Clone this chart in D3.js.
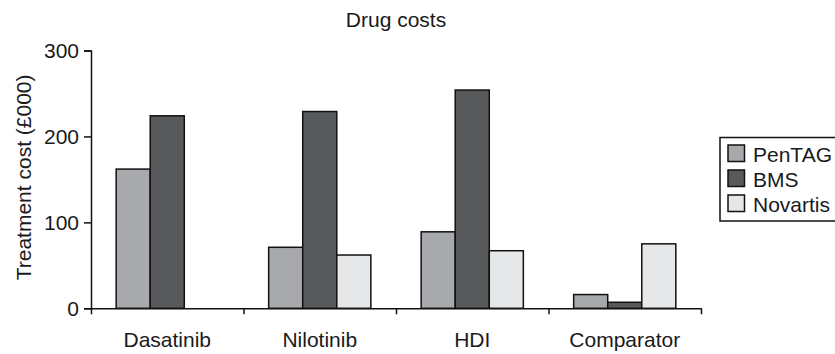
<!DOCTYPE html>
<html>
<head>
<meta charset="utf-8">
<script src="https://cdn.jsdelivr.net/npm/d3@7"></script>
<style>
  html, body { margin: 0; padding: 0; background: #fff; }
  svg { display: block; font-family: "Liberation Sans", Arial, Helvetica, sans-serif; }
</style>
</head>
<body>
<svg id="chart" width="835" height="354"></svg>
<script>
// ---- data ----
const title = "Drug costs";
const yTitle = "Treatment cost (£000)";
const categories = ["Dasatinib", "Nilotinib", "HDI", "Comparator"];
const seriesNames = ["PenTAG", "BMS", "Novartis"];
const penTAG   = [162, 71, 89, 16];
const bms      = [224, 229, 254, 7];
const novartis = [null, 62, 67, 75];
const yTicks = [0, 100, 200, 300];
const seriesColors = ["#a7a9ac", "#58595b", "#e6e7e8"];

const seriesValues = [penTAG, bms, novartis];
const FS = 21;

// ---- layout ----
const svg = d3.select("#chart");
const margin = { left: 91, right: 134, top: 50.5, bottom: 45.7 };
const W = 835, H = 354;
const x0 = d3.scaleBand().domain(categories)
  .range([margin.left, W - margin.right])
  .paddingInner(0.33).paddingOuter(0.165);
const x1 = d3.scaleBand().domain(seriesNames).range([0, x0.bandwidth()]).padding(0);
const y = d3.scaleLinear().domain([0, 300]).range([H - margin.bottom, margin.top]);
const xb = d3.scaleLinear().domain([0, categories.length]).range([margin.left, W - margin.right]);

// title
svg.append("text")
  .attr("x", (margin.left + W - margin.right) / 2).attr("y", 27)
  .attr("text-anchor", "middle").attr("font-size", FS).attr("fill", "#1a1a1a")
  .text(title);

// y title
svg.append("text")
  .attr("transform", `translate(31,${(y(0) + y(300)) / 2 - 2}) rotate(-90)`)
  .attr("text-anchor", "middle").attr("font-size", FS).attr("fill", "#1a1a1a")
  .text(yTitle);

// bars
const rows = [];
categories.forEach((c, i) => {
  seriesNames.forEach((s, j) => {
    const v = seriesValues[j][i];
    if (v !== null && v !== undefined) rows.push({ c, s, v, j });
  });
});
svg.append("g").selectAll("rect").data(rows).join("rect")
  .attr("x", d => x0(d.c) + x1(d.s))
  .attr("y", d => y(d.v))
  .attr("width", x1.bandwidth())
  .attr("height", d => y(0) - y(d.v))
  .attr("fill", d => seriesColors[d.j])
  .attr("stroke", "#111").attr("stroke-width", 1.5);

// y axis
const yAxis = svg.append("g").attr("transform", `translate(${margin.left},0)`)
  .call(d3.axisLeft(y).tickValues(yTicks).tickSize(7).tickPadding(5).tickFormat(d3.format("d")));
yAxis.select(".domain").attr("stroke", "#111").attr("stroke-width", 1.5);
yAxis.selectAll(".tick line").attr("stroke", "#111").attr("stroke-width", 1.5);
yAxis.selectAll(".tick text").attr("font-size", FS).attr("fill", "#1a1a1a")
  .attr("font-family", "Liberation Sans, Arial, sans-serif");

// x axis boundary ticks
const xAxis = svg.append("g").attr("transform", `translate(0,${y(0)})`)
  .call(d3.axisBottom(xb).tickValues(d3.range(categories.length + 1)).tickSize(6).tickSizeOuter(0).tickFormat(""));
xAxis.select(".domain").attr("stroke", "#111").attr("stroke-width", 1.5);
xAxis.selectAll(".tick line").attr("stroke", "#111").attr("stroke-width", 1.5);

// x labels
const xLab = svg.append("g").attr("transform", `translate(0,${y(0)})`)
  .call(d3.axisBottom(x0).tickSize(0).tickPadding(24));
xLab.select(".domain").remove();
xLab.selectAll(".tick text").attr("font-size", FS).attr("fill", "#1a1a1a")
  .attr("font-family", "Liberation Sans, Arial, sans-serif");

// legend
const lg = svg.append("g");
lg.append("rect").attr("x", 720).attr("y", 137.5).attr("width", 140).attr("height", 83.5)
  .attr("fill", "#fff").attr("stroke", "#111").attr("stroke-width", 1.5);
seriesNames.forEach((s, j) => {
  const yy = 145 + j * 25;
  lg.append("rect").attr("x", 728).attr("y", yy).attr("width", 16.5).attr("height", 16.5)
    .attr("fill", seriesColors[j]).attr("stroke", "#111").attr("stroke-width", 1.5);
  lg.append("text").attr("x", 753).attr("y", yy + 16.5)
    .attr("font-size", FS).attr("fill", "#1a1a1a").text(s);
});
</script>
</body>
</html>
